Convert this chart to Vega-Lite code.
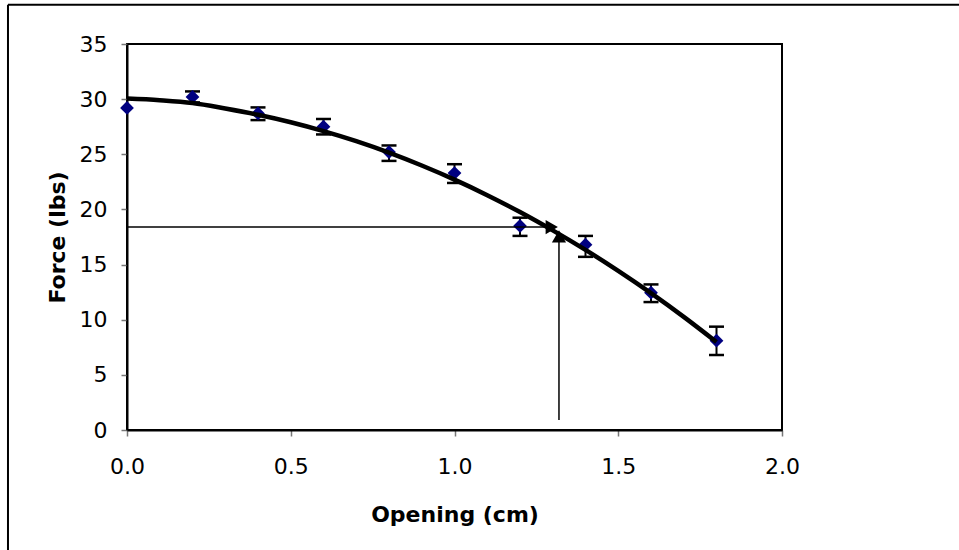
{
  "$schema": "https://vega.github.io/schema/vega-lite/v6.json",
  "width": 655,
  "height": 386,
  "autosize": {"type": "none"},
  "padding": {"left": 127, "top": 44, "right": 177, "bottom": 120},
  "background": "white",
  "config": {
    "view": {"stroke": "#000", "strokeWidth": 2},
    "font": "DejaVu Sans",
    "axis": {
      "labelFont": "DejaVu Sans",
      "titleFont": "DejaVu Sans",
      "labelFontSize": 22,
      "titleFontSize": 22,
      "titleFontWeight": "bold",
      "labelColor": "#000",
      "titleColor": "#000",
      "domainColor": "#000",
      "domainWidth": 2,
      "tickColor": "#777",
      "tickWidth": 1.5,
      "tickSize": 6,
      "labelFlush": false,
      "grid": false
    }
  },
  "datasets": {
    "pts": [
      {"opening": 0.0, "force": 29.2, "lo": null, "hi": null},
      {"opening": 0.2, "force": 30.2, "lo": 29.7, "hi": 30.7},
      {"opening": 0.4, "force": 28.7, "lo": 28.1, "hi": 29.25},
      {"opening": 0.6, "force": 27.5, "lo": 26.8, "hi": 28.2},
      {"opening": 0.8, "force": 25.2, "lo": 24.4, "hi": 25.8},
      {"opening": 1.0, "force": 23.3, "lo": 22.4, "hi": 24.1},
      {"opening": 1.2, "force": 18.5, "lo": 17.6, "hi": 19.25},
      {"opening": 1.4, "force": 16.8, "lo": 15.7, "hi": 17.6},
      {"opening": 1.6, "force": 12.45, "lo": 11.6, "hi": 13.2},
      {"opening": 1.8, "force": 8.1, "lo": 6.8, "hi": 9.37}
    ],
    "curve": [
      {"opening": 0.0, "force": 30.05},
      {"opening": 0.1, "force": 29.9},
      {"opening": 0.2, "force": 29.65},
      {"opening": 0.3, "force": 29.15},
      {"opening": 0.4, "force": 28.58},
      {"opening": 0.5, "force": 27.9},
      {"opening": 0.6, "force": 27.1},
      {"opening": 0.7, "force": 26.19},
      {"opening": 0.8, "force": 25.15},
      {"opening": 0.9, "force": 23.98},
      {"opening": 1.0, "force": 22.7},
      {"opening": 1.1, "force": 21.29},
      {"opening": 1.2, "force": 19.76},
      {"opening": 1.3, "force": 18.1},
      {"opening": 1.4, "force": 16.33},
      {"opening": 1.5, "force": 14.43},
      {"opening": 1.6, "force": 12.41},
      {"opening": 1.7, "force": 10.26},
      {"opening": 1.8, "force": 7.98}
    ],
    "arrows": [
      {"x1": 0.0, "x2": 1.285, "y1": 18.4, "y2": 18.4},
      {"x1": 1.319, "x2": 1.319, "y1": 0.9, "y2": 17.3}
    ],
    "heads": [
      {"x": 1.297, "y": 18.4, "dir": "right"},
      {"x": 1.319, "y": 17.55, "dir": "up"}
    ],
    "one": [{}]
  },
  "layer": [
    {
      "data": {"name": "one"},
      "mark": {"type": "rule", "stroke": "#000", "strokeWidth": 2, "clip": false},
      "encoding": {
        "x": {"datum": -0.3634, "type": "quantitative", "scale": {"domain": [0, 2]}},
        "y": {"datum": -11, "type": "quantitative", "scale": {"domain": [0, 35]}},
        "y2": {"datum": 38.55}
      }
    },
    {
      "data": {"name": "one"},
      "mark": {"type": "rule", "stroke": "#000", "strokeWidth": 2, "clip": false},
      "encoding": {
        "x": {"datum": -0.3634, "type": "quantitative"},
        "x2": {"datum": 2.6},
        "y": {"datum": 38.55, "type": "quantitative"}
      }
    },
    {
      "data": {"name": "pts"},
      "transform": [{"filter": "datum.lo != null"}],
      "mark": {"type": "rule", "stroke": "#000", "strokeWidth": 2},
      "encoding": {
        "x": {"field": "opening", "type": "quantitative"},
        "y": {"field": "lo", "type": "quantitative"},
        "y2": {"field": "hi"}
      }
    },
    {
      "data": {"name": "pts"},
      "transform": [{"filter": "datum.lo != null"}],
      "mark": {"type": "tick", "orient": "horizontal", "color": "#000", "size": 15, "thickness": 2.5, "opacity": 1},
      "encoding": {
        "x": {"field": "opening", "type": "quantitative"},
        "y": {"field": "lo", "type": "quantitative"}
      }
    },
    {
      "data": {"name": "pts"},
      "transform": [{"filter": "datum.lo != null"}],
      "mark": {"type": "tick", "orient": "horizontal", "color": "#000", "size": 15, "thickness": 2.5, "opacity": 1},
      "encoding": {
        "x": {"field": "opening", "type": "quantitative"},
        "y": {"field": "hi", "type": "quantitative"}
      }
    },
    {
      "data": {"name": "pts"},
      "mark": {"type": "point", "shape": "diamond", "filled": true, "color": "#000080", "size": 190, "opacity": 1},
      "encoding": {
        "x": {
          "field": "opening", "type": "quantitative",
          "scale": {"domain": [0, 2], "nice": false},
          "axis": {"title": "Opening (cm)", "values": [0, 0.5, 1, 1.5, 2], "format": ".1f", "labelPadding": 20, "titlePadding": 27}
        },
        "y": {
          "field": "force", "type": "quantitative",
          "scale": {"domain": [0, 35], "nice": false},
          "axis": {"title": "Force (lbs)", "values": [0, 5, 10, 15, 20, 25, 30, 35], "labelPadding": 14, "titlePadding": 10}
        }
      }
    },
    {
      "data": {"name": "curve"},
      "mark": {"type": "line", "stroke": "#000", "strokeWidth": 4.5, "interpolate": "monotone"},
      "encoding": {
        "x": {"field": "opening", "type": "quantitative"},
        "y": {"field": "force", "type": "quantitative"}
      }
    },
    {
      "data": {"name": "arrows"},
      "mark": {"type": "rule", "stroke": "#000", "strokeWidth": 1.5},
      "encoding": {
        "x": {"field": "x1", "type": "quantitative"},
        "x2": {"field": "x2"},
        "y": {"field": "y1", "type": "quantitative"},
        "y2": {"field": "y2"}
      }
    },
    {
      "data": {"name": "heads"},
      "mark": {"type": "point", "filled": true, "color": "#000", "opacity": 1, "size": 200},
      "encoding": {
        "x": {"field": "x", "type": "quantitative"},
        "y": {"field": "y", "type": "quantitative"},
        "shape": {
          "field": "dir", "type": "nominal",
          "scale": {"domain": ["right", "up"], "range": ["triangle-right", "triangle-up"]},
          "legend": null
        }
      }
    }
  ]
}
